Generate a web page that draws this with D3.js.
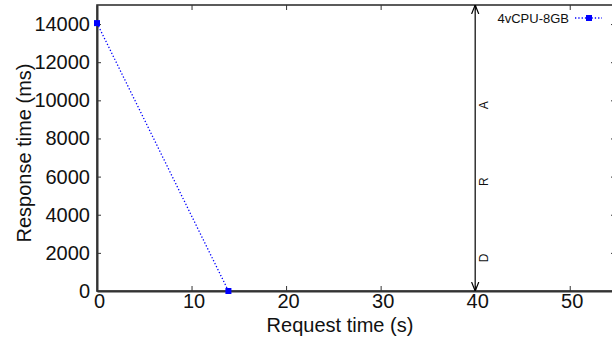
<!DOCTYPE html>
<html>
<head>
<meta charset="utf-8">
<script src="https://cdn.jsdelivr.net/npm/d3@7"></script>
<style>
  body { margin: 0; background: #fff; }
  svg { display: block; font-family: "Liberation Sans", Arial, sans-serif; }
</style>
</head>
<body>
<div id="chart"></div>
<script>
// series: 4vCPU-8GB
const seriesName = "4vCPU-8GB";
const requestTime = [0, 13.9];
const responseTime = [14050, 0];
const xTicks = [0, 10, 20, 30, 40, 50];
const yTicks = [0, 2000, 4000, 6000, 8000, 10000, 12000, 14000];
const phaseX = 40;
const phaseLabels = ["D", "R", "A"];
const phaseValues = [2000, 6000, 10000];

const W = 612, H = 341;
const margin = { top: 5, right: -5, bottom: 50, left: 97 };
const width = W - margin.left - margin.right,
  height = H - margin.top - margin.bottom;

const svg = d3.select("#chart").append("svg").attr("width", W).attr("height", H)
  .append("g").attr("transform", `translate(${margin.left},${margin.top})`);

const x = d3.scaleLinear().domain([0, 55]).range([0, width]);
const y = d3.scaleLinear().domain([0, 15000]).range([height, 0]);

const axisColor = "#333";
const fmt = d3.format("d");

// frame
svg.append("rect").attr("width", width).attr("height", height)
  .attr("fill", "none").attr("stroke", axisColor).attr("stroke-width", 1.6);

// bottom axis
const gx = svg.append("g").attr("transform", `translate(0,${height})`)
  .call(d3.axisBottom(x).tickValues(xTicks).tickFormat(fmt).tickSize(-5).tickPadding(3).tickSizeOuter(0));
gx.select(".domain").attr("stroke", axisColor).attr("stroke-width", 2);
gx.selectAll(".tick line").attr("stroke", axisColor);
gx.selectAll("text").attr("font-size", "20px").attr("fill", "#111").attr("dx", 2);

// top ticks
svg.append("g")
  .call(d3.axisTop(x).tickValues(xTicks).tickSize(-5).tickFormat("").tickSizeOuter(0))
  .call(g => g.select(".domain").remove())
  .selectAll(".tick line").attr("stroke", axisColor);

// left axis
const gy = svg.append("g")
  .call(d3.axisLeft(y).tickValues(yTicks).tickFormat(fmt).tickSize(-4).tickPadding(7).tickSizeOuter(0));
gy.select(".domain").attr("stroke", axisColor).attr("stroke-width", 2);
gy.selectAll(".tick line").attr("stroke", axisColor);
gy.selectAll("text").attr("font-size", "20px").attr("fill", "#111");

// right ticks
svg.append("g").attr("transform", `translate(${width},0)`)
  .call(d3.axisRight(y).tickValues(yTicks).tickSize(-6).tickFormat("").tickSizeOuter(0))
  .call(g => g.select(".domain").remove())
  .selectAll(".tick line").attr("stroke", axisColor);

// axis titles
svg.append("text").attr("x", x(25.7)).attr("y", height + 41)
  .attr("text-anchor", "middle").attr("font-size", "20px").attr("fill", "#111")
  .text("Request time (s)");
svg.append("text")
  .attr("transform", `translate(${-margin.left + 31},${height / 2 + 5}) rotate(-90)`)
  .attr("text-anchor", "middle").attr("font-size", "20px").attr("fill", "#111")
  .text("Response time (ms)");

// phase arrow
const defs = svg.append("defs");
defs.append("marker").attr("id", "arr").attr("viewBox", "0 0 10 10")
  .attr("refX", 10).attr("refY", 5).attr("markerWidth", 9).attr("markerHeight", 9)
  .attr("markerUnits", "userSpaceOnUse").attr("orient", "auto-start-reverse")
  .append("path").attr("d", "M0,1 L10,5 L0,9").attr("fill", "none").attr("stroke", "#000").attr("stroke-width", 1.3);

svg.append("line").attr("x1", x(phaseX)).attr("x2", x(phaseX))
  .attr("y1", y(0)).attr("y2", 0).attr("stroke", "#000").attr("stroke-width", 1.2)
  .attr("marker-start", "url(#arr)").attr("marker-end", "url(#arr)");

phaseLabels.forEach((lab, i) => {
  svg.append("text")
    .attr("transform", `translate(${x(phaseX) + 13},${y(phaseValues[i]) + 5}) rotate(-90)`)
    .attr("text-anchor", "middle").attr("font-size", "12px").attr("fill", "#111")
    .text(lab);
});

// series
const pts = requestTime.map((t, i) => [t, responseTime[i]]);
const blue = "#0000ff";
svg.append("path").datum(pts)
  .attr("d", d3.line().x(d => x(d[0])).y(d => y(d[1])))
  .attr("fill", "none").attr("stroke", blue).attr("stroke-width", 1.3).attr("stroke-dasharray", "1.3,2");
svg.selectAll(".pt").data(pts).enter().append("rect").attr("class", "pt")
  .attr("x", d => x(d[0]) - 3).attr("y", d => y(d[1]) - 3)
  .attr("width", 6).attr("height", 6).attr("fill", blue);

// legend
const legend = svg.append("g").attr("transform", `translate(${width - 48},13)`);
legend.append("text").attr("x", 0).attr("y", 4.5).attr("text-anchor", "end")
  .attr("font-size", "13px").attr("fill", "#111").text(seriesName);
legend.append("line").attr("x1", 6).attr("x2", 33).attr("y1", 0).attr("y2", 0)
  .attr("stroke", blue).attr("stroke-width", 1.3).attr("stroke-dasharray", "1.3,2");
legend.append("rect").attr("x", 17).attr("y", -3).attr("width", 6).attr("height", 6).attr("fill", blue);
</script>
</body>
</html>
